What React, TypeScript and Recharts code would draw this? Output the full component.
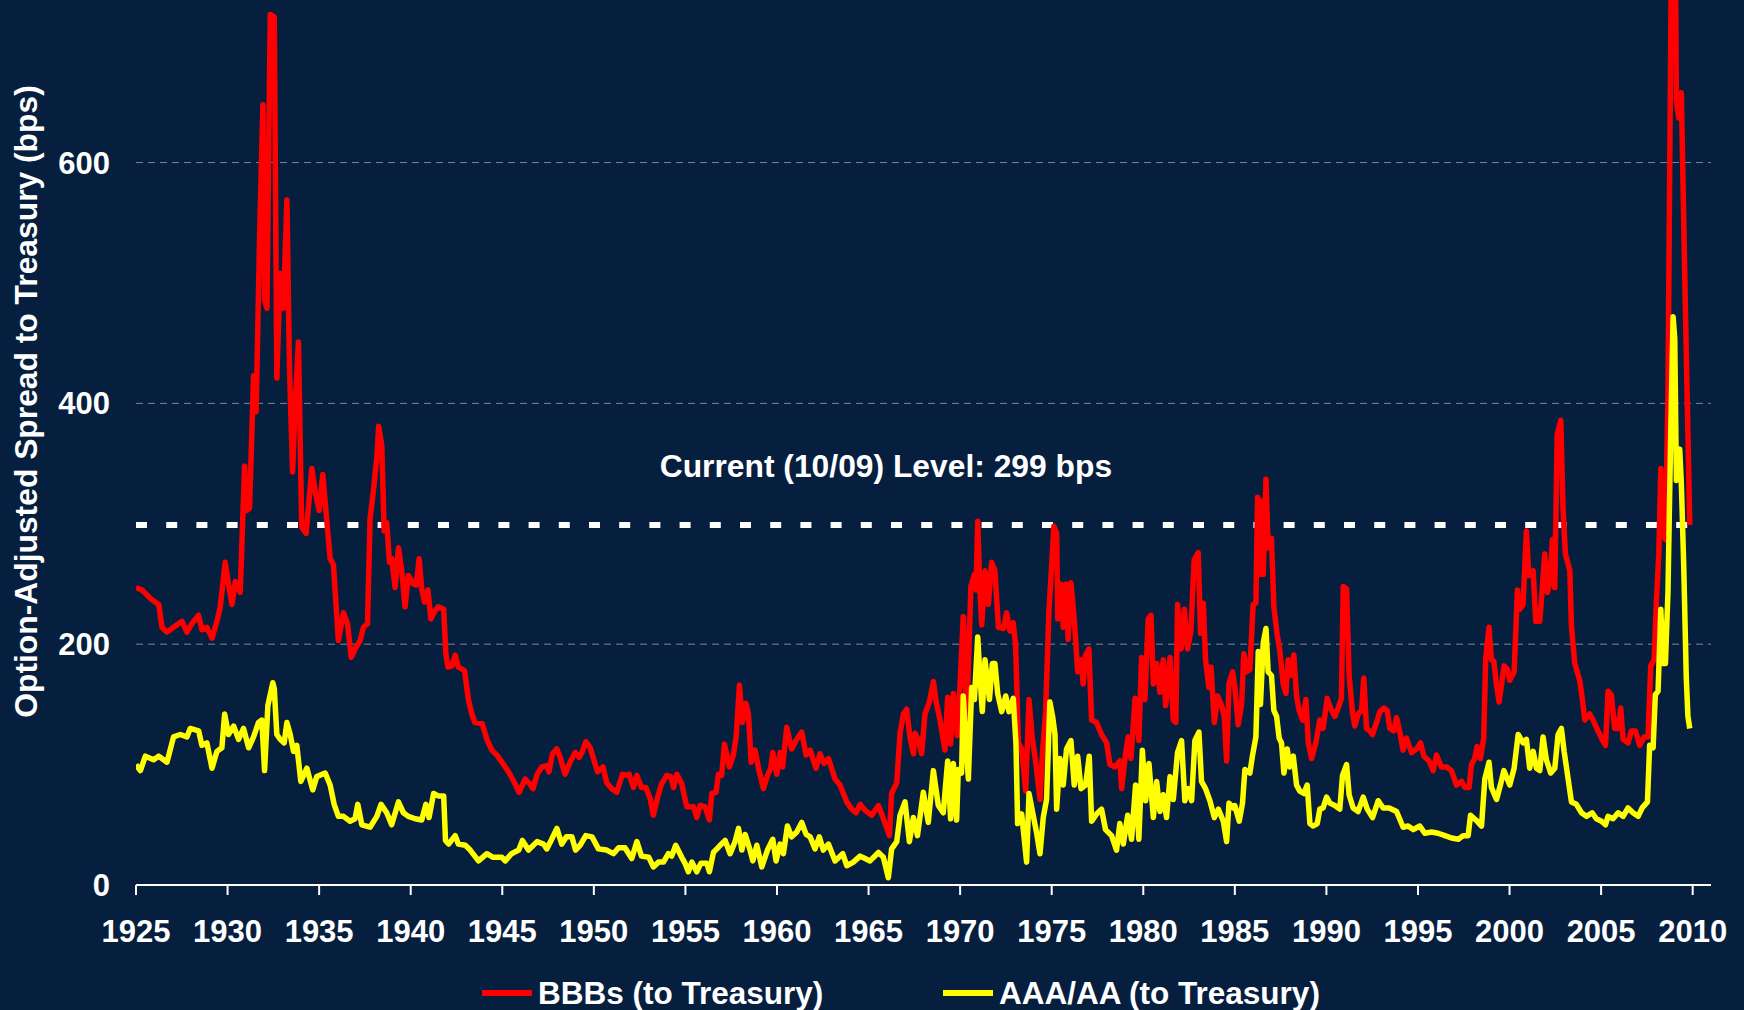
import { CartesianGrid, Legend, Line, LineChart, ReferenceLine, XAxis, YAxis } from 'recharts';

const CHART_WIDTH = 1744;
const CHART_HEIGHT = 1010;
const FONT = '"Liberation Sans", Arial, sans-serif';
const BG = '#061f3e';

// values, year as a decimal
const BBB_YEARS = [
  1925.0, 1925.33, 1925.78, 1926.24, 1926.42, 1926.69, 1927.05, 1927.51, 1927.78, 1928.05,
  1928.42, 1928.6, 1928.87, 1929.15, 1929.42, 1929.6, 1929.87, 1930.05, 1930.24, 1930.42,
  1930.69, 1930.93, 1931.05, 1931.2, 1931.42, 1931.56, 1931.75, 1931.93, 1932.02, 1932.15,
  1932.33, 1932.55, 1932.69, 1932.87, 1933.05, 1933.24, 1933.38, 1933.55, 1933.69, 1933.87,
  1934.05, 1934.29, 1934.6, 1934.78, 1935.0, 1935.2, 1935.45, 1935.6, 1935.78, 1936.05,
  1936.33, 1936.55, 1936.75, 1936.96, 1937.24, 1937.42, 1937.64, 1937.78, 1937.96, 1938.15,
  1938.25, 1938.42, 1938.55, 1938.69, 1938.84, 1938.96, 1939.15, 1939.33, 1939.51, 1939.69,
  1939.87, 1940.15, 1940.3, 1940.46, 1940.6, 1940.75, 1940.94, 1941.1, 1941.34, 1941.5,
  1941.8, 1941.92, 1942.03, 1942.25, 1942.43, 1942.6, 1942.94, 1943.16, 1943.34, 1943.5,
  1943.9, 1944.16, 1944.43, 1944.7, 1944.98, 1945.34, 1945.6, 1945.92, 1946.25, 1946.5,
  1946.68, 1946.9, 1947.16, 1947.43, 1947.55, 1947.74, 1947.98, 1948.16, 1948.43, 1948.7,
  1948.98, 1949.2, 1949.35, 1949.56, 1949.8, 1949.98, 1950.2, 1950.5, 1950.7, 1950.98,
  1951.25, 1951.56, 1951.8, 1951.93, 1952.16, 1952.35, 1952.6, 1952.84, 1953.07, 1953.25,
  1953.5, 1953.7, 1953.98, 1954.2, 1954.35, 1954.53, 1954.8, 1955.07, 1955.44, 1955.62,
  1955.8, 1956.07, 1956.31, 1956.44, 1956.67, 1956.8, 1956.98, 1957.13, 1957.4, 1957.62,
  1957.77, 1957.95, 1958.11, 1958.3, 1958.44, 1958.59, 1958.8, 1958.99, 1959.26, 1959.48,
  1959.66, 1959.77, 1959.99, 1960.17, 1960.31, 1960.53, 1960.8, 1961.08, 1961.35, 1961.59,
  1961.81, 1962.13, 1962.35, 1962.57, 1962.81, 1963.17, 1963.44, 1963.81, 1964.08, 1964.32,
  1964.54, 1964.81, 1965.17, 1965.54, 1965.81, 1966.14, 1966.26, 1966.54, 1966.72, 1966.9,
  1967.08, 1967.26, 1967.45, 1967.54, 1967.72, 1967.9, 1968.08, 1968.32, 1968.54, 1968.68,
  1968.9, 1969.17, 1969.32, 1969.48, 1969.63, 1969.85, 1969.99, 1970.17, 1970.36, 1970.59,
  1970.78, 1970.87, 1970.96, 1971.08, 1971.18, 1971.36, 1971.54, 1971.72, 1971.9, 1972.09,
  1972.36, 1972.54, 1972.72, 1972.9, 1973.03, 1973.18, 1973.36, 1973.58, 1973.76, 1973.94,
  1974.12, 1974.36, 1974.49, 1974.67, 1974.85, 1975.0, 1975.12, 1975.27, 1975.33, 1975.5,
  1975.63, 1975.78, 1975.9, 1976.05, 1976.23, 1976.42, 1976.6, 1976.72, 1976.85, 1977.03,
  1977.18, 1977.45, 1977.72, 1978.0, 1978.18, 1978.45, 1978.72, 1978.82, 1979.04, 1979.18,
  1979.33, 1979.55, 1979.76, 1979.91, 1980.09, 1980.27, 1980.42, 1980.55, 1980.73, 1980.91,
  1981.09, 1981.22, 1981.46, 1981.64, 1981.78, 1981.87, 1982.06, 1982.24, 1982.42, 1982.6,
  1982.78, 1983.0, 1983.13, 1983.28, 1983.4, 1983.58, 1983.7, 1983.88, 1984.06, 1984.28,
  1984.42, 1984.55, 1984.68, 1984.88, 1985.0, 1985.18, 1985.37, 1985.49, 1985.64, 1985.82,
  1986.0, 1986.15, 1986.24, 1986.37, 1986.46, 1986.55, 1986.7, 1986.82, 1987.0, 1987.13,
  1987.31, 1987.46, 1987.64, 1987.79, 1987.91, 1988.04, 1988.22, 1988.37, 1988.51, 1988.7,
  1988.88, 1989.01, 1989.19, 1989.42, 1989.64, 1989.82, 1990.04, 1990.22, 1990.46, 1990.64,
  1990.82, 1990.92, 1991.1, 1991.24, 1991.43, 1991.55, 1991.73, 1991.92, 1992.04, 1992.19,
  1992.37, 1992.52, 1992.74, 1992.92, 1993.14, 1993.32, 1993.46, 1993.68, 1993.83, 1994.01,
  1994.19, 1994.37, 1994.65, 1994.92, 1995.14, 1995.32, 1995.61, 1995.83, 1996.01, 1996.28,
  1996.56, 1996.83, 1997.1, 1997.38, 1997.56, 1997.79, 1997.92, 1998.1, 1998.23, 1998.41,
  1998.59, 1998.7, 1998.88, 1999.01, 1999.14, 1999.28, 1999.43, 1999.56, 1999.7, 1999.89,
  2000.01, 2000.25, 2000.43, 2000.56, 2000.74, 2000.92, 2001.05, 2001.29, 2001.43, 2001.65,
  2001.78, 2001.92, 2002.07, 2002.2, 2002.34, 2002.47, 2002.6, 2002.8, 2002.92, 2003.05,
  2003.29, 2003.38, 2003.56, 2003.83, 2003.96, 2004.11, 2004.38, 2004.56, 2004.83, 2005.05,
  2005.24, 2005.38, 2005.56, 2005.74, 2005.93, 2006.07, 2006.2, 2006.47, 2006.65, 2006.87,
  2007.11, 2007.35, 2007.56, 2007.71, 2007.89, 2008.02, 2008.15, 2008.26, 2008.38, 2008.51,
  2008.65, 2008.84, 2008.95, 2009.05, 2009.11, 2009.24, 2009.38, 2009.6, 2009.84,
];
const BBB_SPREAD = [
  247, 245, 238, 233, 214, 210, 214, 219, 210, 217,
  224, 212, 214, 205, 219, 231, 268, 250, 233, 252,
  243, 348, 311, 313, 423, 393, 540, 648, 486, 479,
  723, 721, 421, 508, 479, 569, 430, 343, 397, 451,
  297, 292, 346, 327, 311, 341, 297, 271, 266, 203,
  226, 217, 189, 196, 203, 214, 217, 304, 327, 355,
  381, 365, 294, 301, 268, 271, 247, 280, 261, 231,
  257, 250, 249, 271, 246, 235, 245, 221, 228, 231,
  229, 192, 181, 182, 191, 181, 178, 153, 142, 135,
  134, 121, 112, 108, 102, 94, 87, 77, 88, 84,
  80, 92, 98, 99, 94, 109, 113, 106, 92, 102,
  110, 106, 110, 119, 114, 105, 94, 98, 85, 80,
  77, 92, 91, 92, 81, 91, 81, 81, 72, 58,
  74, 84, 91, 90, 81, 92, 84, 65, 65, 56,
  66, 65, 54, 76, 77, 92, 91, 117, 98, 108,
  123, 166, 135, 151, 142, 102, 112, 97, 80, 91,
  97, 110, 92, 110, 98, 131, 113, 121, 127, 108,
  112, 97, 109, 101, 105, 88, 83, 69, 63, 60,
  67, 62, 58, 66, 55, 41, 76, 85, 126, 142,
  146, 123, 109, 126, 120, 109, 142, 152, 169, 153,
  137, 112, 156, 117, 159, 124, 164, 223, 140, 248,
  258, 245, 302, 245, 216, 261, 233, 268, 261, 214,
  213, 226, 211, 218, 199, 118, 113, 78, 154, 122,
  103, 71, 108, 145, 228, 266, 298, 292, 221, 250,
  214, 250, 204, 251, 221, 177, 187, 167, 191, 196,
  137, 135, 125, 118, 100, 98, 103, 80, 110, 123,
  105, 155, 120, 189, 154, 221, 224, 167, 184, 160,
  187, 149, 189, 137, 135, 233, 196, 229, 196, 211,
  270, 276, 209, 234, 187, 164, 181, 135, 157, 149,
  140, 103, 167, 177, 164, 133, 150, 192, 177, 179,
  233, 234, 322, 258, 319, 258, 337, 280, 288, 231,
  208, 194, 167, 159, 187, 174, 191, 157, 145, 137,
  154, 118, 105, 118, 137, 130, 155, 147, 140, 147,
  155, 248, 246, 174, 142, 132, 142, 145, 172, 130,
  128, 125, 135, 144, 147, 145, 130, 128, 139, 127,
  112, 122, 110, 113, 118, 107, 103, 95, 108, 98,
  98, 95, 83, 86, 81, 81, 100, 105, 115, 105,
  122, 189, 214, 187, 186, 167, 152, 166, 182, 179,
  170, 177, 245, 229, 233, 294, 257, 261, 219, 219,
  245, 275, 243, 252, 287, 247, 374, 386, 313, 275,
  261, 215, 184, 170, 156, 137, 142, 137, 128, 121,
  116, 161, 158, 130, 130, 147, 121, 118, 128, 128,
  116, 123, 123, 182, 187, 236, 275, 346, 290, 287,
  407, 780, 810, 790, 651, 637, 658, 480, 299,
];

const AAA_YEARS = [
  1925.0, 1925.24, 1925.51, 1925.96, 1926.24, 1926.69, 1927.05, 1927.42, 1927.78, 1927.96,
  1928.42, 1928.6, 1928.87, 1929.15, 1929.42, 1929.69, 1929.84, 1930.05, 1930.33, 1930.6,
  1930.87, 1931.15, 1931.42, 1931.69, 1931.87, 1932.02, 1932.2, 1932.47, 1932.55, 1932.69,
  1932.87, 1933.09, 1933.24, 1933.42, 1933.6, 1933.78, 1934.0, 1934.33, 1934.65, 1934.87,
  1935.33, 1935.6, 1935.82, 1936.05, 1936.33, 1936.69, 1936.96, 1937.11, 1937.33, 1937.78,
  1938.15, 1938.38, 1938.69, 1938.96, 1939.33, 1939.6, 1939.87, 1940.25, 1940.6, 1940.83,
  1941.0, 1941.25, 1941.5, 1941.8, 1941.9, 1942.07, 1942.43, 1942.6, 1942.98, 1943.25,
  1943.7, 1944.16, 1944.5, 1944.98, 1945.16, 1945.5, 1945.9, 1946.1, 1946.43, 1946.9,
  1947.25, 1947.43, 1947.7, 1947.98, 1948.25, 1948.5, 1948.8, 1949.0, 1949.25, 1949.56,
  1949.9, 1950.25, 1950.7, 1951.07, 1951.35, 1951.7, 1952.07, 1952.35, 1952.6, 1953.0,
  1953.25, 1953.53, 1953.8, 1954.07, 1954.25, 1954.47, 1954.8, 1954.98, 1955.16, 1955.35,
  1955.62, 1955.84, 1956.17, 1956.31, 1956.53, 1956.9, 1957.17, 1957.44, 1957.71, 1957.9,
  1958.08, 1958.26, 1958.53, 1958.68, 1958.9, 1959.17, 1959.48, 1959.77, 1959.95, 1960.17,
  1960.35, 1960.57, 1960.8, 1961.08, 1961.35, 1961.59, 1961.81, 1962.08, 1962.31, 1962.53,
  1962.81, 1963.17, 1963.59, 1963.81, 1964.17, 1964.54, 1964.81, 1965.08, 1965.54, 1965.81,
  1966.08, 1966.26, 1966.54, 1966.72, 1966.99, 1967.23, 1967.45, 1967.67, 1967.99, 1968.26,
  1968.54, 1968.81, 1969.08, 1969.32, 1969.48, 1969.63, 1969.81, 1969.9, 1970.08, 1970.17,
  1970.45, 1970.63, 1970.78, 1970.96, 1971.08, 1971.21, 1971.36, 1971.6, 1971.76, 1971.9,
  1972.05, 1972.27, 1972.49, 1972.67, 1972.9, 1973.05, 1973.14, 1973.36, 1973.63, 1973.76,
  1973.99, 1974.18, 1974.36, 1974.54, 1974.72, 1974.9, 1975.05, 1975.18, 1975.27, 1975.45,
  1975.63, 1975.81, 1976.05, 1976.23, 1976.42, 1976.6, 1976.85, 1977.05, 1977.18, 1977.45,
  1977.72, 1977.94, 1978.27, 1978.54, 1978.72, 1978.91, 1979.15, 1979.36, 1979.58, 1979.76,
  1979.95, 1980.13, 1980.31, 1980.55, 1980.73, 1980.91, 1981.09, 1981.27, 1981.46, 1981.64,
  1981.87, 1982.09, 1982.27, 1982.46, 1982.64, 1982.82, 1983.04, 1983.18, 1983.4, 1983.64,
  1983.88, 1984.1, 1984.37, 1984.55, 1984.68, 1984.91, 1985.0, 1985.24, 1985.42, 1985.55,
  1985.82, 1985.97, 1986.15, 1986.28, 1986.4, 1986.55, 1986.7, 1986.82, 1987.0, 1987.13,
  1987.28, 1987.42, 1987.55, 1987.68, 1987.86, 1988.0, 1988.19, 1988.37, 1988.55, 1988.77,
  1988.95, 1989.1, 1989.28, 1989.5, 1989.64, 1989.82, 1990.01, 1990.19, 1990.46, 1990.73,
  1990.88, 1991.1, 1991.24, 1991.46, 1991.73, 1992.01, 1992.23, 1992.52, 1992.83, 1993.1,
  1993.43, 1993.83, 1994.19, 1994.46, 1994.74, 1995.1, 1995.37, 1995.74, 1996.1, 1996.47,
  1996.83, 1997.2, 1997.47, 1997.74, 1997.87, 1998.16, 1998.47, 1998.65, 1998.88, 1999.01,
  1999.29, 1999.5, 1999.69, 2000.01, 2000.25, 2000.47, 2000.74, 2000.92, 2001.1, 2001.29,
  2001.47, 2001.65, 2001.83, 2002.01, 2002.25, 2002.47, 2002.65, 2002.83, 2002.98, 2003.2,
  2003.38, 2003.65, 2003.93, 2004.2, 2004.51, 2004.74, 2005.02, 2005.24, 2005.38, 2005.65,
  2005.93, 2006.2, 2006.47, 2006.74, 2007.02, 2007.24, 2007.53, 2007.65, 2007.84, 2007.96,
  2008.11, 2008.26, 2008.38, 2008.51, 2008.65, 2008.8, 2008.93, 2009.02, 2009.11, 2009.29,
  2009.38, 2009.51, 2009.65, 2009.74, 2009.84,
];
const AAA_SPREAD = [
  100, 95, 107, 104, 107, 102, 123, 125, 123, 130,
  128, 116, 118, 97, 111, 114, 142, 125, 132, 121,
  130, 114, 123, 135, 137, 95, 149, 168, 163, 125,
  121, 118, 135, 125, 111, 116, 86, 97, 79, 90,
  93, 83, 67, 57, 57, 53, 55, 67, 50, 48,
  57, 67, 60, 50, 69, 60, 57, 55, 54, 67,
  56, 76, 74, 74, 37, 34, 41, 34, 33, 29,
  20, 26, 23, 23, 20, 26, 29, 37, 29, 36,
  34, 30, 38, 47, 34, 40, 40, 29, 33, 41,
  40, 30, 29, 26, 31, 31, 22, 36, 24, 23,
  15, 19, 19, 26, 24, 33, 23, 18, 11, 19,
  11, 18, 18, 11, 27, 33, 37, 26, 36, 47,
  29, 42, 29, 20, 33, 15, 29, 38, 20, 34,
  26, 49, 40, 44, 52, 42, 40, 30, 40, 29,
  34, 20, 26, 16, 19, 24, 22, 20, 27, 23,
  6, 30, 36, 58, 69, 36, 56, 41, 77, 52,
  95, 66, 60, 103, 55, 101, 54, 96, 93, 157,
  88, 164, 154, 206, 174, 144, 187, 154, 184, 184,
  159, 144, 157, 144, 155, 117, 51, 59, 19, 76,
  58, 43, 26, 56, 71, 152, 140, 125, 63, 105,
  83, 113, 120, 83, 107, 80, 83, 107, 53, 59,
  63, 46, 41, 29, 51, 34, 58, 38, 83, 38,
  112, 70, 101, 56, 86, 61, 75, 56, 90, 71,
  110, 120, 70, 80, 70, 120, 127, 86, 80, 70,
  56, 63, 53, 36, 68, 64, 66, 53, 68, 96,
  93, 108, 123, 194, 150, 201, 213, 177, 174, 145,
  140, 122, 118, 93, 113, 98, 107, 83, 78, 76,
  83, 51, 49, 51, 63, 64, 73, 68, 66, 63,
  91, 100, 75, 64, 61, 73, 63, 56, 70, 64,
  64, 61, 48, 49, 46, 49, 43, 44, 43, 41,
  39, 38, 41, 41, 58, 54, 49, 88, 102, 81,
  71, 83, 95, 83, 97, 125, 118, 121, 97, 111,
  97, 95, 123, 104, 93, 97, 125, 130, 111, 88,
  69, 67, 60, 57, 60, 55, 53, 50, 57, 55,
  60, 57, 64, 60, 57, 64, 69, 116, 114, 158,
  161, 229, 184, 184, 243, 374, 472, 454, 336, 362,
  334, 266, 172, 140, 130,
];

const YEAR_TICKS = [
  1925, 1930, 1935, 1940, 1945, 1950, 1955, 1960, 1965, 1970, 1975, 1980, 1985, 1990, 1995, 2000, 2005,
  2010,
];
const SPREAD_TICKS = [0, 200, 400, 600];
const GRID_VALUES = [200, 400, 600];

const CURRENT_LEVEL = 299;
const CURRENT_FROM = 1925;
const CURRENT_TO = 2009.84;
const CURRENT_TEXT = 'Current (10/09) Level: 299 bps';

const BBB_NAME = 'BBBs (to Treasury)';
const AAA_NAME = 'AAA/AA (to Treasury)';
const BBB_COLOR = '#ff0000';
const AAA_COLOR = '#ffff00';

const bbbData = BBB_YEARS.map((year, i) => ({ year, spread: BBB_SPREAD[i] }));
const aaaData = AAA_YEARS.map((year, i) => ({ year, spread: AAA_SPREAD[i] }));

const tickStyle = { fill: '#ffffff', fontSize: 31, fontWeight: 700, fontFamily: FONT };

function YTitle(props: any) {
  const vb = props.viewBox ?? { x: 0, y: 0, width: 136, height: 885 };
  const cx = vb.x + 26;
  const cy = vb.y + vb.height / 2 - 41;
  return (
    <text
      x={cx}
      y={cy}
      transform={`rotate(-90, ${cx}, ${cy})`}
      textAnchor="middle"
      dominantBaseline="central"
      fill="#ffffff"
      fontSize={31.8}
      fontWeight={700}
      fontFamily={FONT}
    >
      Option-Adjusted Spread to Treasury (bps)
    </text>
  );
}

function CurrentLabel(props: any) {
  const vb = props.viewBox ?? { x: 136, y: 524, width: 1554, height: 0 };
  return (
    <text
      x={vb.x + vb.width / 2 - 27}
      y={vb.y - 48}
      textAnchor="middle"
      fill="#ffffff"
      fontSize={31.8}
      fontWeight={700}
      fontFamily={FONT}
    >
      {CURRENT_TEXT}
    </text>
  );
}

const LEGEND_LEFT: Record<string, number> = { [BBB_NAME]: 482, [AAA_NAME]: 943 };

function LegendContent({ payload }: any) {
  return (
    <div style={{ position: 'relative', width: CHART_WIDTH, height: 42 }}>
      {(payload ?? []).map((entry: any) => (
        <div
          key={entry.value}
          style={{
            position: 'absolute',
            left: LEGEND_LEFT[entry.value] ?? 0,
            top: 0,
            height: 42,
            display: 'flex',
            alignItems: 'center',
            whiteSpace: 'nowrap',
          }}
        >
          <span style={{ display: 'inline-block', width: 50, height: 5.5, background: entry.color, marginRight: 6 }} />
          <span style={{ color: '#ffffff', fontSize: 31.5, fontWeight: 700, fontFamily: FONT }}>{entry.value}</span>
        </div>
      ))}
    </div>
  );
}

export default function App() {
  return (
    <div
      style={{
        position: 'absolute',
        left: 0,
        top: 0,
        width: CHART_WIDTH,
        height: CHART_HEIGHT,
        background: BG,
        overflow: 'hidden',
        fontFamily: FONT,
      }}
    >
      <LineChart width={CHART_WIDTH} height={CHART_HEIGHT} margin={{ top: 0, right: 33, bottom: 55, left: 0 }}>
        <CartesianGrid
          vertical={false}
          horizontalValues={GRID_VALUES}
          stroke="#7b8797"
          strokeDasharray="7 5"
          strokeWidth={1}
        />
        <XAxis
          dataKey="year"
          type="number"
          domain={[1925, 2011]}
          ticks={YEAR_TICKS}
          allowDataOverflow
          height={70}
          stroke="#ffffff"
          strokeWidth={2}
          tickSize={10}
          tickMargin={25}
          tick={tickStyle}
        />
        <YAxis
          type="number"
          domain={[0, 735]}
          ticks={SPREAD_TICKS}
          allowDataOverflow
          width={136}
          axisLine={false}
          tickLine={false}
          tickSize={0}
          tickMargin={26}
          tick={tickStyle}
          label={YTitle}
        />
        <ReferenceLine
          segment={[
            { x: CURRENT_FROM, y: CURRENT_LEVEL },
            { x: CURRENT_TO, y: CURRENT_LEVEL },
          ]}
          stroke="#ffffff"
          strokeWidth={6}
          strokeDasharray="11 19.2"
          label={CurrentLabel}
        />
        <Line
          data={bbbData}
          dataKey="spread"
          name={BBB_NAME}
          type="linear"
          stroke={BBB_COLOR}
          strokeWidth={5.5}
          strokeLinejoin="round"
          dot={false}
          activeDot={false}
          isAnimationActive={false}
        />
        <Line
          data={aaaData}
          dataKey="spread"
          name={AAA_NAME}
          type="linear"
          stroke={AAA_COLOR}
          strokeWidth={5.5}
          strokeLinejoin="round"
          dot={false}
          activeDot={false}
          isAnimationActive={false}
        />
        <Legend
          layout="horizontal"
          verticalAlign="middle"
          align="center"
          content={LegendContent}
          wrapperStyle={{ top: 972, left: 0, width: CHART_WIDTH, margin: 0, padding: 0 }}
        />
      </LineChart>
    </div>
  );
}
